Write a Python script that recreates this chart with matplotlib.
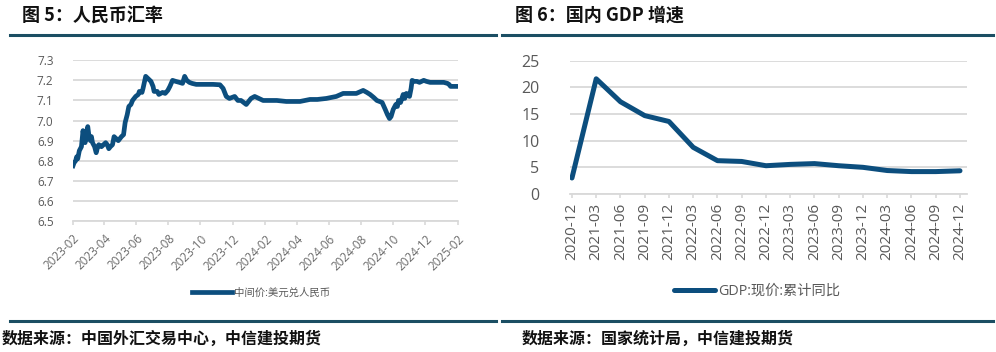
import numpy as np
import pandas as pd
import matplotlib
matplotlib.use("Agg")
import matplotlib.pyplot as plt
import matplotlib.dates as mdates
from matplotlib.lines import Line2D

plt.rcParams['font.family'] = ['Open Sans', 'Noto Sans CJK SC', 'DejaVu Sans']
plt.rcParams['axes.unicode_minus'] = False

# 图5 数据：中间价:美元兑人民币
fx_dates = [
    "2023-02-01", "2023-02-03", "2023-02-06", "2023-02-08", "2023-02-10",
    "2023-02-13", "2023-02-15", "2023-02-17", "2023-02-20", "2023-02-22",
    "2023-02-24", "2023-02-27", "2023-03-01", "2023-03-03", "2023-03-06",
    "2023-03-08", "2023-03-10", "2023-03-14", "2023-03-16", "2023-03-17",
    "2023-03-20", "2023-03-22", "2023-03-27", "2023-03-31", "2023-04-04",
    "2023-04-07", "2023-04-10", "2023-04-13", "2023-04-17", "2023-04-20",
    "2023-04-24", "2023-04-28", "2023-05-04", "2023-05-08", "2023-05-11",
    "2023-05-15", "2023-05-18", "2023-05-22", "2023-05-25", "2023-05-31",
    "2023-06-05", "2023-06-07", "2023-06-12", "2023-06-14", "2023-06-19",
    "2023-06-23", "2023-06-29", "2023-07-03", "2023-07-05", "2023-07-11",
    "2023-07-14", "2023-07-21", "2023-07-26", "2023-07-31", "2023-08-04",
    "2023-08-09", "2023-08-15", "2023-08-22", "2023-08-28", "2023-09-01",
    "2023-09-05", "2023-09-10", "2023-09-15", "2023-09-23", "2023-10-10",
    "2023-10-25", "2023-11-07", "2023-11-13", "2023-11-19", "2023-11-25",
    "2023-12-05", "2023-12-11", "2023-12-17", "2023-12-27", "2024-01-05",
    "2024-01-12", "2024-01-20", "2024-01-28", "2024-02-10", "2024-02-23",
    "2024-03-12", "2024-04-07", "2024-04-26", "2024-05-10", "2024-05-27",
    "2024-06-15", "2024-06-28", "2024-07-10", "2024-07-23", "2024-08-05",
    "2024-08-12", "2024-08-18", "2024-08-25", "2024-08-31", "2024-09-05",
    "2024-09-10", "2024-09-16", "2024-09-20", "2024-09-24", "2024-09-27",
    "2024-10-01", "2024-10-06", "2024-10-09", "2024-10-11", "2024-10-15",
    "2024-10-20", "2024-10-23", "2024-10-26", "2024-10-30", "2024-11-01",
    "2024-11-04", "2024-11-06", "2024-11-10", "2024-11-15", "2024-11-20",
    "2024-11-28", "2024-12-03", "2024-12-10", "2024-12-20", "2025-01-05",
    "2025-01-12", "2025-01-15", "2025-01-18", "2025-01-25", "2025-02-01",
]
fx_values = [
    6.775, 6.79, 6.80, 6.82, 6.81,
    6.85, 6.86, 6.87, 6.95, 6.91,
    6.89, 6.94, 6.97, 6.93, 6.90,
    6.92, 6.89, 6.87, 6.85, 6.84,
    6.87, 6.88, 6.87, 6.88, 6.89,
    6.88, 6.86, 6.87, 6.88, 6.92,
    6.91, 6.90, 6.92, 6.93, 6.99,
    7.03, 7.07, 7.08, 7.10, 7.12,
    7.13, 7.145, 7.14, 7.16, 7.22,
    7.21, 7.195, 7.17, 7.145, 7.145,
    7.13, 7.14, 7.135, 7.15, 7.17,
    7.20, 7.195, 7.19, 7.185, 7.22,
    7.20, 7.19, 7.185, 7.18, 7.18,
    7.18, 7.178, 7.16, 7.12, 7.11,
    7.12, 7.10, 7.10, 7.08, 7.11,
    7.12, 7.11, 7.10, 7.10, 7.10,
    7.095, 7.095, 7.105, 7.105, 7.11,
    7.12, 7.135, 7.135, 7.135, 7.15,
    7.14, 7.13, 7.115, 7.10, 7.095,
    7.09, 7.055, 7.03, 7.01, 7.02,
    7.055, 7.08, 7.07, 7.10, 7.09,
    7.13, 7.11, 7.135, 7.13, 7.12,
    7.16, 7.20, 7.195, 7.195, 7.19,
    7.20, 7.195, 7.19, 7.19, 7.19,
    7.185, 7.18, 7.17, 7.17, 7.17,
]

# 图6 数据：GDP:现价:累计同比
gdp_labels = ["2020-12", "2021-03", "2021-06", "2021-09", "2021-12",
              "2022-03", "2022-06", "2022-09", "2022-12", "2023-03",
              "2023-06", "2023-09", "2023-12", "2024-03", "2024-06",
              "2024-09", "2024-12"]
gdp_values = [3.0, 21.6, 17.3, 14.7, 13.6, 8.75, 6.25, 6.1, 5.3, 5.55,
              5.7, 5.3, 5.0, 4.4, 4.2, 4.2, 4.35]

line_color = "#0C4E7E"
bar_color = "#1B4E63"
grid_color = "#D9D9D9"
tick_color = "#595959"

fig = plt.figure(figsize=(9.96, 3.52), dpi=100)

# ---- 左图：人民币汇率
ax1 = fig.add_axes([0.0733, 0.372, 0.3865, 0.4568])
dates = pd.to_datetime(fx_dates)
ax1.plot(dates, fx_values, color=line_color, lw=3.4, label="中间价:美元兑人民币",
         solid_joinstyle='round')
ax1.set_xlim(pd.Timestamp("2023-02-01"), pd.Timestamp("2025-02-01"))
ax1.set_ylim(6.5, 7.3)
ax1.set_yticks(np.arange(6.5, 7.31, 0.1))
ax1.yaxis.set_major_formatter(matplotlib.ticker.FormatStrFormatter('%.1f'))
ax1.xaxis.set_major_locator(mdates.MonthLocator(bymonth=[2, 4, 6, 8, 10, 12]))
ax1.xaxis.set_major_formatter(mdates.DateFormatter('%Y-%m'))
ax1.grid(axis='y', color=grid_color, lw=1.3)
ax1.set_axisbelow(True)
for s in ['top', 'right', 'left']:
    ax1.spines[s].set_visible(False)
ax1.spines['bottom'].set_color(grid_color)
ax1.spines['bottom'].set_linewidth(1.3)
ax1.tick_params(axis='y', length=0, labelsize=8.5, labelcolor=tick_color, pad=14)
ax1.tick_params(axis='x', length=3, color=grid_color, width=1.2, pad=5,
                labelsize=8.5, labelcolor='#6b6b6b')
plt.setp(ax1.get_xticklabels(), rotation=45, ha='right', rotation_mode='anchor')
ax1.legend(loc='center', bbox_to_anchor=(0.262, 0.168), bbox_transform=fig.transFigure,
           frameon=False, fontsize=7.5, handlelength=3.8, handletextpad=0.2,
           labelcolor=tick_color)

# ---- 右图：国内 GDP 增速
ax2 = fig.add_axes([0.5723, 0.4489, 0.3986, 0.3787])
x = np.arange(len(gdp_labels))
ax2.plot(x, gdp_values, color=line_color, lw=3.6, label="GDP:现价:累计同比",
         solid_joinstyle='round', solid_capstyle='round')
ax2.set_xlim(-0.08, len(gdp_labels) - 1 + 0.29)
ax2.set_ylim(0, 25)
ax2.set_yticks(np.arange(0, 26, 5))
ax2.set_xticks(x)
ax2.set_xticklabels(gdp_labels, rotation=90)
ax2.grid(axis='y', color=grid_color, lw=1.3)
ax2.set_axisbelow(True)
for s in ['top', 'right', 'left']:
    ax2.spines[s].set_visible(False)
ax2.spines['bottom'].set_color(grid_color)
ax2.spines['bottom'].set_linewidth(1.3)
ax2.tick_params(axis='y', length=0, labelsize=11.5, labelcolor=tick_color, pad=22)
ax2.tick_params(axis='x', length=3, color=grid_color, width=1.2,
                labelsize=11, labelcolor=tick_color)
ax2.legend(loc='center', bbox_to_anchor=(0.760, 0.173), bbox_transform=fig.transFigure,
           frameon=False, fontsize=10.3, handlelength=2.9, handletextpad=0.2,
           labelcolor=tick_color)

# ---- 标题、分隔线、数据来源
title_font = ['Noto Sans CJK SC', 'DejaVu Sans']
fig.text(22 / 996, 1 - 15 / 352, "图 5：人民币汇率", family=title_font,
         fontsize=13, weight='bold', va='center', ha='left', color='#111111')
fig.text(515 / 996, 1 - 15 / 352, "图 6：国内 GDP 增速", family=title_font,
         fontsize=13, weight='bold', va='center', ha='left', color='#111111')

for yy in [35, 321]:
    fig.add_artist(Line2D([10 / 996, 496 / 996], [1 - yy / 352] * 2, color=bar_color, lw=2.2))
    fig.add_artist(Line2D([502 / 996, 993 / 996], [1 - yy / 352] * 2, color=bar_color, lw=2.2))

fig.text(2 / 996, 1 - 339 / 352, "数据来源：中国外汇交易中心，中信建投期货", family=title_font,
         fontsize=11.5, weight='bold', style='italic', va='center', ha='left', color='#111111')
fig.text(522 / 996, 1 - 339 / 352, "数据来源：国家统计局，中信建投期货", family=title_font,
         fontsize=11.5, weight='bold', style='italic', va='center', ha='left', color='#111111')

fig.savefig("out.png", dpi=100, facecolor='white')
